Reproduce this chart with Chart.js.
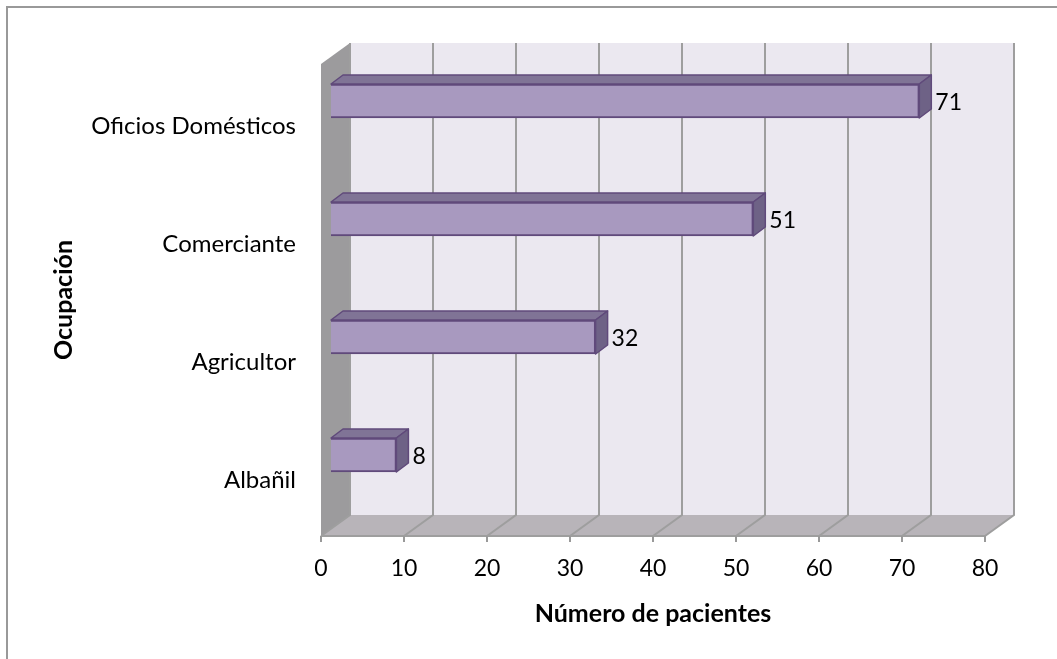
<!DOCTYPE html>
<html>
<head>
<meta charset="utf-8">
<script src="https://cdn.jsdelivr.net/npm/chart.js@4.4.1/dist/chart.umd.min.js"></script>
<style>
  html, body { margin: 0; padding: 0; background: #fff; }
  canvas { display: block; }
</style>
</head>
<body>
<canvas id="chart" width="1057" height="659"></canvas>
<script>
var ocupaciones = ['Oficios Domésticos', 'Comerciante', 'Agricultor', 'Albañil'];
var pacientes = [71, 51, 32, 8];
var xTicks = [0, 10, 20, 30, 40, 50, 60, 70, 80];

var FONT = 'Lato, "Liberation Sans", sans-serif';

// 3D depth of the plot box and of the bars
var depthX = 29, depthY = -21;
var barShiftX = 9, barShiftY = -22;
var barDepthX = 12, barDepthY = -9;

var wallsPlugin = {
  id: 'walls',
  beforeDraw: function(chart) {
    var ctx = chart.ctx;
    var area = chart.chartArea;
    var xs = chart.scales.x;
    var x0 = xs.getPixelForValue(0);
    var x1 = xs.getPixelForValue(80);
    var top = area.top, bottom = area.bottom;

    ctx.save();
    ctx.fillStyle = '#fff';
    ctx.fillRect(0, 0, chart.width, chart.height);

    // outer frame
    ctx.strokeStyle = '#999';
    ctx.lineWidth = 2;
    ctx.strokeRect(7, 7, chart.width + 20, chart.height + 20);

    // back wall
    ctx.fillStyle = '#EBE8F0';
    ctx.fillRect(x0 + depthX, top + depthY, x1 - x0, bottom - top);

    // left wall
    ctx.fillStyle = '#9C9B9D';
    ctx.beginPath();
    ctx.moveTo(x0, top);
    ctx.lineTo(x0 + depthX, top + depthY);
    ctx.lineTo(x0 + depthX, bottom + depthY);
    ctx.lineTo(x0, bottom);
    ctx.closePath();
    ctx.fill();

    // floor
    ctx.fillStyle = '#B8B4B9';
    ctx.beginPath();
    ctx.moveTo(x0, bottom);
    ctx.lineTo(x1, bottom);
    ctx.lineTo(x1 + depthX, bottom + depthY);
    ctx.lineTo(x0 + depthX, bottom + depthY);
    ctx.closePath();
    ctx.fill();

    // gridlines up the back wall and across the floor
    ctx.strokeStyle = '#9E9E9E';
    ctx.lineWidth = 2;
    xTicks.forEach(function(v) {
      var px = xs.getPixelForValue(v);
      ctx.beginPath();
      ctx.moveTo(px + depthX, top + depthY);
      ctx.lineTo(px + depthX, bottom + depthY);
      ctx.lineTo(px, bottom);
      ctx.stroke();
    });

    ctx.beginPath();
    ctx.moveTo(x0, bottom);
    ctx.lineTo(x1, bottom);
    ctx.stroke();
    ctx.restore();
  },
  beforeDatasetsDraw: function(chart) {
    chart.ctx.save();
    chart.ctx.translate(barShiftX, barShiftY);
  },
  afterDatasetsDraw: function(chart) {
    var ctx = chart.ctx;
    var meta = chart.getDatasetMeta(0);

    meta.data.forEach(function(bar, i) {
      var props = bar.getProps(['x', 'y', 'base', 'height']);
      var left = props.base, right = props.x;
      var t = props.y - props.height / 2;
      var b = props.y + props.height / 2;

      ctx.lineWidth = 1.5;
      ctx.strokeStyle = '#604A7B';
      ctx.lineJoin = 'round';

      // top face
      ctx.fillStyle = '#807496';
      ctx.beginPath();
      ctx.moveTo(left, t);
      ctx.lineTo(left + barDepthX, t + barDepthY);
      ctx.lineTo(right + barDepthX, t + barDepthY);
      ctx.lineTo(right, t);
      ctx.closePath();
      ctx.fill();
      ctx.stroke();

      // end face
      ctx.fillStyle = '#6E6286';
      ctx.beginPath();
      ctx.moveTo(right, t);
      ctx.lineTo(right + barDepthX, t + barDepthY);
      ctx.lineTo(right + barDepthX, b + barDepthY);
      ctx.lineTo(right, b);
      ctx.closePath();
      ctx.fill();
      ctx.stroke();

      // value label
      ctx.fillStyle = '#000';
      ctx.font = '23px ' + FONT;
      ctx.textAlign = 'left';
      ctx.textBaseline = 'middle';
      ctx.fillText(String(pacientes[i]), right + barDepthX + 4, props.y + 2);
    });

    ctx.restore();
  }
};

var chart = new Chart(document.getElementById('chart'), {
  type: 'bar',
  data: {
    labels: ocupaciones,
    datasets: [{
      data: pacientes,
      backgroundColor: '#A899BF',
      borderColor: '#604A7B',
      borderWidth: 2,
      barThickness: 34
    }]
  },
  options: {
    indexAxis: 'y',
    responsive: false,
    animation: false,
    layout: { padding: { left: 45, right: 72, top: 64, bottom: 20 } },
    plugins: {
      legend: { display: false },
      tooltip: { enabled: false }
    },
    scales: {
      x: {
        min: 0,
        max: 80,
        afterBuildTicks: function(scale) {
          scale.ticks = xTicks.map(function(v) { return { value: v }; });
        },
        afterFit: function(scale) { scale.height = 659 - 536 - 20; },
        ticks: { color: '#000', font: { family: FONT, size: 23 }, padding: 13, maxRotation: 0 },
        grid: { drawOnChartArea: false, color: '#999', lineWidth: 2, tickLength: 6 },
        border: { display: false },
        title: {
          display: true,
          text: 'Número de pacientes',
          color: '#000',
          font: { family: FONT, size: 25, weight: 'bold' },
          padding: { top: 8, bottom: 10 }
        }
      },
      y: {
        afterFit: function(scale) { scale.width = 321 - 45; },
        ticks: { color: '#000', font: { family: FONT, size: 24 }, padding: 25, labelOffset: 3 },
        grid: { display: false, drawTicks: false },
        border: { display: false },
        title: {
          display: true,
          text: 'Ocupación',
          color: '#000',
          font: { family: FONT, size: 25, weight: 'bold' },
          padding: { top: 4, bottom: 4 }
        }
      }
    }
  },
  plugins: [wallsPlugin]
});
</script>
</body>
</html>
